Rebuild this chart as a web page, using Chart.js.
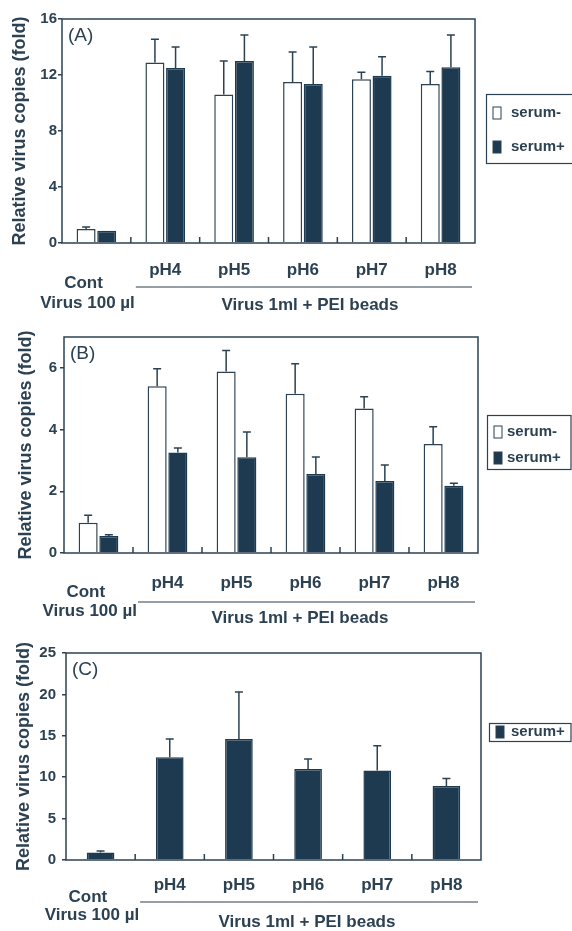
<!DOCTYPE html>
<html>
<head>
<meta charset="utf-8">
<script src="https://cdn.jsdelivr.net/npm/chart.js@4.4.0/dist/chart.umd.min.js"></script>
<style>
  html, body { margin: 0; padding: 0; background: #fff; }
  body { width: 572px; height: 931px; position: relative; overflow: hidden; }
  .panel { position: absolute; left: 0; width: 572px; }
  canvas { display: block; }
</style>
</head>
<body>
<div class="panel" style="top:0;height:316px"><canvas id="chartA"></canvas></div>
<div class="panel" style="top:316px;height:312px"><canvas id="chartB"></canvas></div>
<div class="panel" style="top:628px;height:303px"><canvas id="chartC"></canvas></div>
<script>
// categories along the x axis
const categories = ['Cont', 'pH4', 'pH5', 'pH6', 'pH7', 'pH8'];
const seriesNames = ['serum-', 'serum+'];

// (A) relative virus copies, mean and upper error
const aSerumMinus = [1.0, 12.9, 10.6, 11.5, 11.7, 11.35];
const aSerumMinusErr = [0.14, 1.65, 2.4, 2.15, 0.5, 0.9];
const aSerumPlus = [0.88, 12.5, 13.0, 11.35, 11.95, 12.55];
const aSerumPlusErr = [0, 1.5, 1.85, 2.65, 1.35, 2.3];

// (B)
const bSerumMinus = [0.98, 5.4, 5.88, 5.16, 4.68, 3.53];
const bSerumMinusErr = [0.24, 0.57, 0.68, 0.97, 0.38, 0.56];
const bSerumPlus = [0.55, 3.26, 3.1, 2.56, 2.33, 2.18];
const bSerumPlusErr = [0.04, 0.14, 0.82, 0.55, 0.52, 0.08];

// (C) serum+ only
const cSerumPlus = [0.9, 12.4, 14.6, 11.0, 10.8, 8.95];
const cSerumPlusErr = [0.2, 2.2, 5.7, 1.2, 3.0, 0.9];

// y tick labels
const yTicksA = [0, 4, 8, 12, 16];
const yTicksB = [0, 2, 4, 6];
const yTicksC = [0, 5, 10, 15, 20, 25];

const ink = '#2c4152';
const darkBar = '#1e3a50';
const fontFamily = '"Liberation Sans", Arial, sans-serif';

// upward error bars with a small cap
const errorBars = {
  id: 'errorBars',
  afterDatasetsDraw(chart) {
    const ctx = chart.ctx;
    const y = chart.scales.y;
    chart.data.datasets.forEach((ds, i) => {
      const meta = chart.getDatasetMeta(i);
      meta.data.forEach((bar, j) => {
        const err = ds.errors[j];
        if (!err) return;
        const top = y.getPixelForValue(ds.data[j] + err);
        ctx.save();
        ctx.strokeStyle = ink;
        ctx.lineWidth = 1.5;
        ctx.beginPath();
        ctx.moveTo(bar.x, bar.y);
        ctx.lineTo(bar.x, top);
        ctx.moveTo(bar.x - 4, top);
        ctx.lineTo(bar.x + 4, top);
        ctx.stroke();
        ctx.restore();
      });
    });
  }
};

// box round the plot, group separators, panel letter and the labels under the axis
const frame = {
  id: 'frame',
  afterDatasetsDraw(chart, args, o) {
    const { ctx, chartArea: a, scales: { x } } = chart;
    ctx.save();
    ctx.strokeStyle = ink;
    ctx.lineWidth = 1.5;
    ctx.strokeRect(a.left, a.top, a.right - a.left, a.bottom - a.top);

    const sep = [];
    for (let i = 1; i < categories.length; i++) {
      sep.push((x.getPixelForValue(i - 1) + x.getPixelForValue(i)) / 2);
    }
    ctx.beginPath();
    sep.forEach(sx => { ctx.moveTo(sx, a.bottom); ctx.lineTo(sx, a.bottom - 6); });
    ctx.stroke();

    ctx.fillStyle = ink;
    ctx.textBaseline = 'middle';
    ctx.font = '19px ' + fontFamily;
    ctx.textAlign = 'left';
    ctx.fillText(o.letter, a.left + 6, a.top + 17);

    ctx.font = 'bold 17px ' + fontFamily;
    const lineStart = sep[0] + 5;
    const lineEnd = a.right - 3;
    ctx.lineWidth = 1.2;
    ctx.beginPath();
    ctx.moveTo(lineStart, a.bottom + o.lineY);
    ctx.lineTo(lineEnd, a.bottom + o.lineY);
    ctx.stroke();

    const virusLabel = 'Virus 100 µl';
    const vw = ctx.measureText(virusLabel).width;
    const vRight = sep[0] + 4;
    ctx.textAlign = 'right';
    ctx.fillText(virusLabel, vRight, a.bottom + o.virusY);
    ctx.textAlign = 'center';
    ctx.fillText(categories[0], vRight - vw / 2 - 4, a.bottom + o.contY);
    ctx.fillText('Virus 1ml + PEI beads', o.beadsX, a.bottom + o.beadsY);
    ctx.restore();
  }
};

// boxed legend at the right of each panel
const boxLegend = {
  id: 'boxLegend',
  afterDraw(chart, args, o) {
    const ctx = chart.ctx;
    ctx.save();
    ctx.strokeStyle = ink;
    ctx.lineWidth = 1.2;
    ctx.strokeRect(o.box[0], o.box[1], o.box[2], o.box[3]);
    ctx.font = 'bold 15px ' + fontFamily;
    ctx.textBaseline = 'middle';
    ctx.textAlign = 'left';
    chart.data.datasets.forEach((ds, i) => {
      const cy = o.rows[i];
      ctx.fillStyle = ds.backgroundColor;
      ctx.fillRect(o.swatchX, cy - 6, 8, 12);
      ctx.lineWidth = 1;
      ctx.strokeRect(o.swatchX, cy - 6, 8, 12);
      ctx.fillStyle = ink;
      ctx.fillText(ds.label, o.textX, cy);
    });
    ctx.restore();
  }
};

function makeChart(id, cfg) {
  const canvas = document.getElementById(id);
  const H = canvas.parentNode.clientHeight;
  return new Chart(canvas, {
    type: 'bar',
    data: { labels: categories, datasets: cfg.datasets },
    options: {
      responsive: true,
      maintainAspectRatio: false,
      animation: false,
      layout: { padding: { top: cfg.top, left: 0, right: 572 - cfg.right, bottom: 0 } },
      datasets: { bar: { categoryPercentage: cfg.catPct, barPercentage: cfg.barPct } },
      plugins: {
        legend: { display: false },
        tooltip: { enabled: false },
        frame: cfg.frame,
        boxLegend: cfg.legend
      },
      scales: {
        x: {
          offset: true,
          grid: { display: false, drawTicks: false },
          border: { display: false },
          ticks: {
            autoSkip: false,
            maxRotation: 0,
            padding: cfg.xPad,
            color: ink,
            font: { family: fontFamily, size: 17, weight: 'bold' },
            callback: (v, i) => (i === 0 ? '' : categories[i])
          },
          afterFit: s => { s.height = H - cfg.bottom; }
        },
        y: {
          min: 0,
          max: cfg.max,
          grid: { drawOnChartArea: false, drawTicks: true, tickLength: 4, color: ink, lineWidth: 1.5 },
          border: { display: false },
          ticks: {
            padding: cfg.yPad,
            color: ink,
            font: { family: fontFamily, size: 15, weight: 'bold' }
          },
          afterBuildTicks: s => { s.ticks = cfg.yTicks.map(v => ({ value: v })); },
          title: {
            display: true,
            text: 'Relative virus copies (fold)',
            color: ink,
            padding: { top: cfg.titlePad, bottom: 0 },
            font: { family: fontFamily, size: 18, weight: 'bold' }
          },
          afterFit: s => { s.width = cfg.left; }
        }
      }
    },
    plugins: [errorBars, frame, boxLegend]
  });
}

function whiteSet(data, errors) {
  return { label: seriesNames[0], data, errors, backgroundColor: '#ffffff', borderColor: ink, borderWidth: 1.5 };
}
function darkSet(data, errors) {
  return { label: seriesNames[1], data, errors, backgroundColor: darkBar, borderColor: darkBar, borderWidth: 1.5 };
}

makeChart('chartA', {
  datasets: [whiteSet(aSerumMinus, aSerumMinusErr), darkSet(aSerumPlus, aSerumPlusErr)],
  top: 19, bottom: 243, left: 62, right: 475, max: 16, yTicks: yTicksA,
  catPct: 0.6, barPct: 0.92, xPad: 17, yPad: 1, titlePad: 9,
  frame: { letter: '(A)', lineY: 44, contY: 40, virusY: 60, beadsY: 62, beadsX: 310 },
  legend: { box: [486.5, 94.5, 90, 69], rows: [113, 147], swatchX: 493, textX: 511 }
});

makeChart('chartB', {
  datasets: [whiteSet(bSerumMinus, bSerumMinusErr), darkSet(bSerumPlus, bSerumPlusErr)],
  top: 21, bottom: 237, left: 64, right: 478, max: 7, yTicks: yTicksB,
  catPct: 0.6, barPct: 0.92, xPad: 20, yPad: 3, titlePad: 15,
  frame: { letter: '(B)', lineY: 49, contY: 39, virusY: 58, beadsY: 65, beadsX: 300 },
  legend: { box: [487.5, 99.5, 83.5, 54], rows: [116, 142], swatchX: 494, textX: 507 }
});

makeChart('chartC', {
  datasets: [darkSet(cSerumPlus, cSerumPlusErr)],
  top: 25, bottom: 232, left: 66, right: 481, max: 25, yTicks: yTicksC,
  catPct: 0.4, barPct: 1, xPad: 15, yPad: 6, titlePad: 13,
  frame: { letter: '(C)', lineY: 42, contY: 37, virusY: 55, beadsY: 62, beadsX: 307 },
  legend: { box: [489.5, 95.5, 81.5, 18], rows: [104], swatchX: 496, textX: 511 }
});
</script>
</body>
</html>
